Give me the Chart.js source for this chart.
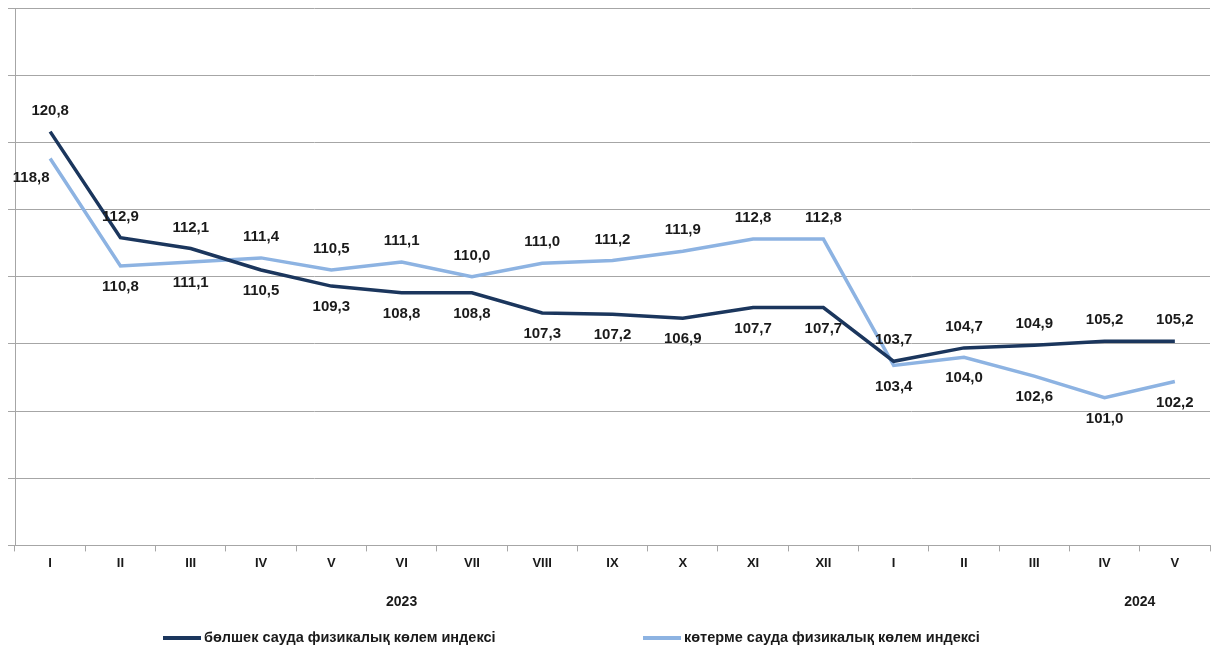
<!DOCTYPE html>
<html>
<head>
<meta charset="utf-8">
<script src="https://cdn.jsdelivr.net/npm/chart.js@4.4.1/dist/chart.umd.min.js"></script>
<style>
  html, body { margin: 0; padding: 0; background: #ffffff; }
  #wrap { width: 1215px; height: 650px; position: relative; }
</style>
</head>
<body>
<div id="wrap"><canvas id="c" width="1215" height="650"></canvas></div>
<script>
const categories = ['I','II','III','IV','V','VI','VII','VIII','IX','X','XI','XII','I','II','III','IV','V'];
const retailIndex = [120.8, 112.9, 112.1, 110.5, 109.3, 108.8, 108.8, 107.3, 107.2, 106.9, 107.7, 107.7, 103.7, 104.7, 104.9, 105.2, 105.2];
const wholesaleIndex = [118.8, 110.8, 111.1, 111.4, 110.5, 111.1, 110.0, 111.0, 111.2, 111.9, 112.8, 112.8, 103.4, 104.0, 102.6, 101.0, 102.2];
const seriesNames = ['бөлшек сауда физикалық көлем индексі', 'көтерме сауда физикалық көлем индексі'];
const yearLabels = ['2023', '2024'];
const yearPositions = [5, 15.5];

const DARK = '#1B365D';
const LIGHT = '#8DB3E2';
const TEXT = '#1a1a1a';
const GRID = '#a6a6a6';

const fmt = v => v.toFixed(1).replace('.', ',');

const labelPlugin = {
  id: 'valueLabels',
  afterDatasetsDraw(chart) {
    const ctx = chart.ctx;
    const ds = chart.data.datasets;
    const m0 = chart.getDatasetMeta(0), m1 = chart.getDatasetMeta(1);
    ctx.save();
    ctx.font = 'bold 15px "Liberation Sans", Arial, sans-serif';
    ctx.fillStyle = TEXT;
    ctx.textAlign = 'center';
    ctx.textBaseline = 'middle';
    for (let i = 0; i < categories.length; i++) {
      const a = ds[0].data[i], b = ds[1].data[i];
      const pa = m0.data[i], pb = m1.data[i];
      const aHigh = a >= b;
      const hi = aHigh ? {v: a, p: pa} : {v: b, p: pb};
      const lo = aHigh ? {v: b, p: pb} : {v: a, p: pa};
      ctx.fillText(fmt(hi.v), hi.p.x, hi.p.y - 21);
      if (i === 0) {
        ctx.fillText(fmt(lo.v), lo.p.x - 19, lo.p.y + 19);
      } else {
        ctx.fillText(fmt(lo.v), lo.p.x, lo.p.y + 21);
      }
    }
    ctx.restore();
  }
};

const extrasPlugin = {
  id: 'extras',
  afterDraw(chart) {
    const ctx = chart.ctx;
    const xs = chart.scales.x;
    ctx.save();
    ctx.fillStyle = TEXT;
    ctx.textAlign = 'center';
    ctx.textBaseline = 'middle';
    ctx.font = 'bold 14px "Liberation Sans Narrow", "Arial Narrow", "Liberation Sans", sans-serif';
    yearLabels.forEach((t, k) => {
      ctx.fillText(t, xs.getPixelForValue(yearPositions[k]), 602);
    });
    // legend
    const items = chart.data.datasets;
    const starts = [163, 643];
    ctx.textAlign = 'left';
    ctx.font = 'bold 14.5px "Liberation Sans Narrow", "Arial Narrow", "Liberation Sans", sans-serif';
    items.forEach((d, k) => {
      const x = starts[k], y = 638;
      ctx.strokeStyle = d.borderColor;
      ctx.lineWidth = 4;
      ctx.beginPath();
      ctx.moveTo(x, y);
      ctx.lineTo(x + 38, y);
      ctx.stroke();
      ctx.fillStyle = TEXT;
      ctx.fillText(d.label, x + 41, y);
    });
    ctx.restore();
  }
};

new Chart(document.getElementById('c'), {
  type: 'line',
  data: {
    labels: categories,
    datasets: [
      { label: seriesNames[0], data: retailIndex, borderColor: DARK, backgroundColor: DARK, borderWidth: 3.5, pointRadius: 0, tension: 0 },
      { label: seriesNames[1], data: wholesaleIndex, borderColor: LIGHT, backgroundColor: LIGHT, borderWidth: 3.5, pointRadius: 0, tension: 0 }
    ]
  },
  options: {
    responsive: false,
    animation: false,
    events: [],
    layout: { padding: { left: 8, right: 5, top: 8, bottom: 75 } },
    plugins: { legend: { display: false }, tooltip: { enabled: false } },
    scales: {
      x: {
        offset: true,
        grid: { display: true, drawOnChartArea: false, drawTicks: true, tickLength: 6, color: GRID, offset: true },
        border: { display: true, color: GRID, width: 1 },
        ticks: { color: TEXT, font: { family: '"Liberation Sans", Arial, sans-serif', size: 13, weight: 'bold' }, padding: 4, maxRotation: 0, autoSkip: false }
      },
      y: {
        min: 90, max: 130,
        ticks: { display: false, stepSize: 5 },
        grid: { color: GRID, lineWidth: 1, drawTicks: true, tickLength: 7 },
        border: { display: true, color: GRID, width: 1 }
      }
    }
  },
  plugins: [labelPlugin, extrasPlugin]
});
</script>
</body>
</html>
